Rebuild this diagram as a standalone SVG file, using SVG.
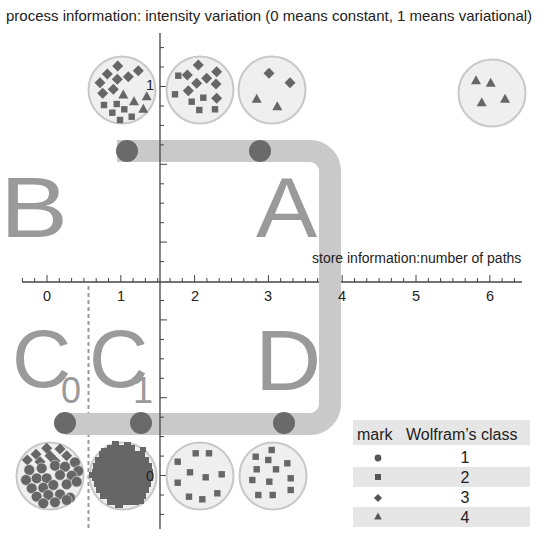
<svg xmlns="http://www.w3.org/2000/svg" width="545" height="543" viewBox="0 0 545 543">
<style>
text{font-family:"Liberation Sans",Arial,sans-serif;fill:#222}
.lbl{font-size:14.5px}
.big{font-size:85px;fill:#9a9a9a}
.sub{font-size:36px;fill:#9a9a9a}
.disc{fill:#efefef;stroke:#c8c8c8;stroke-width:2}
.mk{fill:#666}
.ax{stroke:#444;stroke-width:1.3;fill:none}
.tk{stroke:#444;stroke-width:1}
.dot{fill:#6a6a6a}
.band{fill:#e6e6e6}
.lg{font-size:16px}
</style>
<defs>
<path id="dm" d="M0,-5.5L5.5,0L0,5.5L-5.5,0Z"/>
<rect id="sq" x="-3.2" y="-3.2" width="6.4" height="6.4"/>
<path id="tr" d="M0,-5.5L5,3.5L-5,3.5Z"/>
<circle id="ci" r="5.4" stroke="#e8e8e8" stroke-width="0.6"/>
</defs>

<text x="6" y="21" style="font-size:15px">process information: intensity variation (0 means constant, 1 means variational)</text>

<!-- x axis -->
<g id="xaxis">
<line class="ax" x1="22" y1="282" x2="522" y2="282"/>
<path class="tk" d="M22.4,282v-4M34.7,282v-4M47,282v-7M59.3,282v-4M71.6,282v-4M83.9,282v-4M96.2,282v-4M108.5,282v-4M120.8,282v-7M133.1,282v-4M145.4,282v-4M157.7,282v-4M170,282v-4M182.3,282v-4M194.6,282v-7M206.9,282v-4M219.2,282v-4M231.5,282v-4M243.8,282v-4M256.1,282v-4M268.4,282v-7M280.7,282v-4M293,282v-4M305.3,282v-4M317.6,282v-4M329.9,282v-4M342.2,282v-7M354.5,282v-4M366.8,282v-4M379.1,282v-4M391.4,282v-4M403.7,282v-4M416,282v-7M428.3,282v-4M440.6,282v-4M452.9,282v-4M465.2,282v-4M477.5,282v-4M489.8,282v-7M502.1,282v-4M514.4,282v-4"/>
</g>

<!-- dashed divider -->
<line x1="88.5" y1="286" x2="88.5" y2="530" stroke="#999" stroke-width="2" stroke-dasharray="4,3"/>

<!-- connectors -->
<g id="connectors">
<path d="M117,151H310A20,20 0 0 1 330,171V404A20,20 0 0 1 310,424H65" fill="none" stroke="#c9c9c9" stroke-width="22"/>
</g>

<text x="312" y="263" style="font-size:14px">store information:number of paths</text>

<!-- y axis -->
<g id="yaxis">
<line class="ax" x1="160" y1="33" x2="160" y2="529"/>
<path class="tk" d="M160,47.6h4M160,67h4M160,86.5h7M160,106h4M160,125.4h4M160,144.9h4M160,164.3h7M160,183.8h4M160,203.2h4M160,222.7h4M160,242.1h7M160,261.6h4M160,300.5h4M160,319.9h7M160,339.4h4M160,358.8h4M160,378.3h4M160,397.7h7M160,417.2h4M160,436.6h4M160,456.1h4M160,475.5h7M160,495h4M160,514.4h4"/>
</g>

<!-- x tick labels -->
<g id="xlabels" class="lbl" text-anchor="middle">
<text x="47" y="301">0</text>
<text x="121" y="301">1</text>
<text x="195" y="301">2</text>
<text x="268" y="301">3</text>
<text x="342" y="301">4</text>
<text x="416" y="301">5</text>
<text x="490" y="301">6</text>
</g>

<!-- path dots -->
<g id="dots">
<circle class="dot" cx="127" cy="151" r="11"/>
<circle class="dot" cx="260" cy="151" r="11"/>
<circle class="dot" cx="65" cy="423" r="11"/>
<circle class="dot" cx="141" cy="423" r="11"/>
<circle class="dot" cx="284" cy="423" r="11"/>
</g>

<!-- region letters -->
<g id="B"><text class="big" transform="translate(0,237) scale(1.2,1)">B</text></g>
<g id="A"><text class="big" transform="translate(256,237) scale(1.08,1)">A</text></g>
<g id="C0"><text class="big" x="12" y="387" style="font-size:82px">C</text><text class="sub" x="61" y="403">0</text></g>
<g id="C1"><text class="big" x="89" y="387" style="font-size:82px">C</text><text class="sub" x="133" y="403">1</text></g>
<g id="D"><text class="big" transform="translate(255,390) scale(1.08,1)">D</text></g>

<!-- top row circles -->
<g id="top1">
<circle class="disc" cx="122" cy="90" r="33.5"/>
<g class="mk">
<use href="#dm" x="117.7" y="66"/><use href="#dm" x="138.3" y="70.7"/><use href="#dm" x="107.3" y="74"/><use href="#dm" x="117.3" y="79.3"/><use href="#dm" x="128.3" y="76.7"/><use href="#dm" x="100" y="82.7"/><use href="#dm" x="113.3" y="89.3"/><use href="#dm" x="102.7" y="93.3"/>
<use href="#tr" x="123.3" y="95"/><use href="#tr" x="146.7" y="96.7"/><use href="#tr" x="134" y="101.7"/><use href="#tr" x="143.3" y="109.3"/>
<use href="#sq" x="104" y="105"/><use href="#sq" x="116.7" y="104"/><use href="#sq" x="112.3" y="112.7"/><use href="#sq" x="124.3" y="109.3"/><use href="#sq" x="120" y="120"/><use href="#sq" x="131.7" y="116.7"/>
</g>
</g>
<g id="top2">
<circle class="disc" cx="200" cy="90" r="33.5"/>
<g class="mk">
<use href="#dm" x="198.3" y="65"/><use href="#dm" x="187.3" y="75"/><use href="#dm" x="216.7" y="71.7"/><use href="#dm" x="206.7" y="78.3"/><use href="#dm" x="196.7" y="83.3"/><use href="#dm" x="188.3" y="90.7"/><use href="#dm" x="216" y="84"/><use href="#dm" x="216.7" y="98.3"/>
<use href="#sq" x="178.3" y="75.7"/><use href="#sq" x="175" y="94.3"/><use href="#sq" x="191.7" y="101.7"/><use href="#sq" x="203.3" y="97.7"/><use href="#sq" x="199.3" y="110"/><use href="#sq" x="215" y="109.3"/>
</g>
</g>
<g id="top3">
<circle class="disc" cx="272" cy="90" r="33.5"/>
<g class="mk">
<use href="#dm" x="269" y="73.3"/><use href="#dm" x="290" y="82.7"/>
<use href="#tr" x="256.7" y="99.3"/><use href="#tr" x="277.3" y="106.7"/>
</g>
</g>
<g id="top4">
<circle class="disc" cx="492" cy="93" r="33.5"/>
<g class="mk">
<use href="#tr" x="476" y="80.7"/><use href="#tr" x="490.7" y="83.3"/><use href="#tr" x="481.7" y="102.7"/><use href="#tr" x="505" y="99.3"/>
</g>
</g>

<!-- bottom row circles -->
<g id="bot1">
<circle class="disc" cx="50" cy="476" r="33.5"/>
<g class="mk">
<use href="#dm" x="46.7" y="448.3"/><use href="#dm" x="60" y="449"/><use href="#dm" x="36" y="454.3"/><use href="#dm" x="50" y="455.7"/><use href="#dm" x="66.7" y="455.7"/><use href="#dm" x="27.3" y="460"/><use href="#dm" x="40" y="461.7"/><use href="#dm" x="55" y="461"/>
<use href="#ci" x="75" y="462.3"/><use href="#ci" x="29.3" y="470"/><use href="#ci" x="41.7" y="468.3"/><use href="#ci" x="55" y="465.7"/><use href="#ci" x="65" y="466.7"/><use href="#ci" x="78.3" y="471"/>
<use href="#ci" x="26" y="480"/><use href="#ci" x="36.7" y="478.3"/><use href="#ci" x="46.7" y="478.3"/><use href="#ci" x="60" y="475"/><use href="#ci" x="71.7" y="475.7"/>
<use href="#ci" x="31.7" y="488.3"/><use href="#ci" x="43.3" y="487.7"/><use href="#ci" x="53.3" y="485"/><use href="#ci" x="66.7" y="484.3"/><use href="#ci" x="76.7" y="481.7"/>
<use href="#ci" x="36.7" y="496.7"/><use href="#ci" x="48.3" y="495"/><use href="#ci" x="60" y="494.3"/><use href="#ci" x="70" y="497.7"/>
<use href="#ci" x="43.3" y="503.3"/><use href="#ci" x="55" y="502.3"/><use href="#ci" x="66.7" y="500"/>
</g>
</g>
<g id="bot2">
<circle class="disc" cx="123" cy="476" r="33.5"/>
<g class="mk">
<rect x="107" y="445" width="28" height="6"/>
<rect x="99" y="451" width="46" height="6"/>
<rect x="95" y="457" width="54" height="6"/>
<rect x="93" y="463" width="59" height="6"/>
<rect x="92" y="469" width="61" height="6"/>
<rect x="92" y="475" width="61" height="6"/>
<rect x="94" y="481" width="57" height="6"/>
<rect x="96" y="487" width="53" height="6"/>
<rect x="100" y="493" width="46" height="6"/>
<rect x="107" y="499" width="32" height="6"/>
<rect x="112" y="441" width="7" height="5"/><rect x="124" y="442" width="7" height="4"/>
<rect x="140" y="447" width="6" height="5"/><rect x="101" y="448" width="6" height="4"/>
<rect x="89" y="472" width="4" height="6"/><rect x="115" y="504" width="8" height="4"/>
<rect x="139" y="499" width="5" height="5"/>
</g>
</g>
<g id="bot3">
<circle class="disc" cx="200" cy="476" r="33.5"/>
<g class="mk">
<use href="#sq" x="195.7" y="453.3"/><use href="#sq" x="209" y="453.3"/><use href="#sq" x="177.7" y="461.7"/><use href="#sq" x="190" y="472.3"/><use href="#sq" x="205.7" y="477.3"/><use href="#sq" x="221.7" y="474.3"/><use href="#sq" x="177.7" y="482.7"/><use href="#sq" x="189" y="496.7"/><use href="#sq" x="202.3" y="499.3"/><use href="#sq" x="217.3" y="493.3"/>
</g>
</g>
<g id="bot4">
<circle class="disc" cx="273" cy="476" r="33.5"/>
<g class="mk">
<use href="#sq" x="271.7" y="450"/><use href="#sq" x="255.7" y="456.7"/><use href="#sq" x="268.3" y="460"/><use href="#sq" x="287.3" y="463.3"/><use href="#sq" x="256.7" y="469.3"/><use href="#sq" x="276" y="469.3"/><use href="#sq" x="252.3" y="480"/><use href="#sq" x="269.3" y="481.7"/><use href="#sq" x="290.7" y="478.3"/><use href="#sq" x="258.3" y="495"/><use href="#sq" x="272.7" y="495"/><use href="#sq" x="290.7" y="490"/>
</g>
</g>

<!-- y tick labels -->
<g id="ylabels" class="lbl" text-anchor="end">
<text x="154" y="90">1</text>
<text x="154" y="481">0</text>
</g>

<!-- legend -->
<g id="legend">
<rect class="band" x="353" y="420" width="177" height="25"/>
<rect class="band" x="353" y="467" width="177" height="20"/>
<rect class="band" x="353" y="507" width="177" height="20"/>
<text class="lg" x="357" y="440">mark</text>
<text class="lg" x="406" y="440">Wolfram’s class</text>
<g fill="#555">
<circle cx="378" cy="458" r="3.4"/>
<rect x="375" y="474" width="6" height="6"/>
<path d="M378,494L382,498L378,502L374,498Z"/>
<path d="M378,512.5L381.8,519.5L374.2,519.5Z"/>
</g>
<g class="lg" text-anchor="middle">
<text x="465" y="463">1</text>
<text x="465" y="483">2</text>
<text x="465" y="503">3</text>
<text x="465" y="523">4</text>
</g>
</g>
</svg>
